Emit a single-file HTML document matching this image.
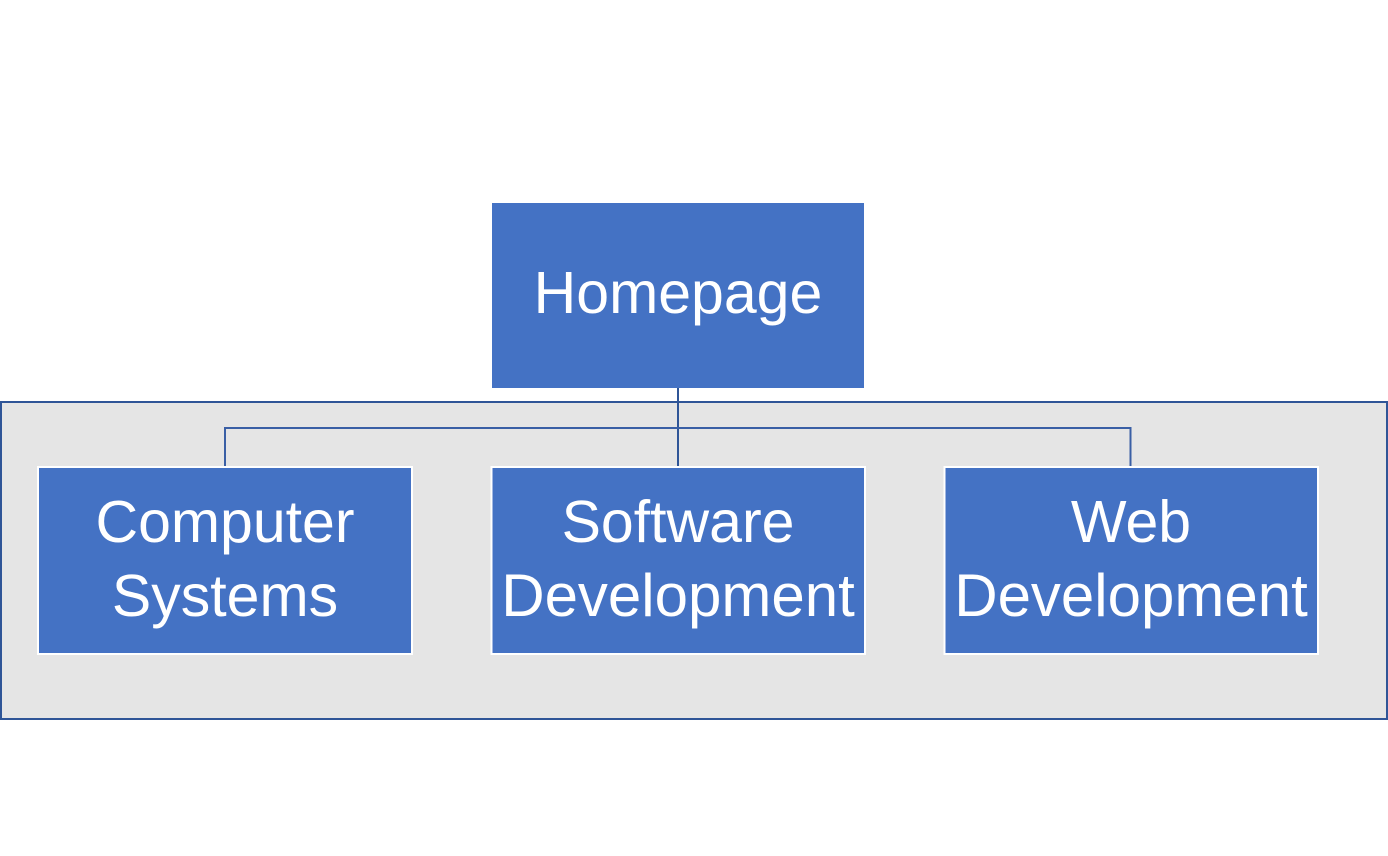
<!DOCTYPE html>
<html><head><meta charset="utf-8"><style>
html,body{margin:0;padding:0;background:#fff;width:1388px;height:856px;overflow:hidden}
svg{display:block}
text{font-family:"Liberation Sans",sans-serif;fill:#fff}
</style></head><body>
<svg width="1388" height="856" viewBox="0 0 1388 856" xmlns="http://www.w3.org/2000/svg">
<rect x="0" y="0" width="1388" height="856" fill="#fff"/>
<rect x="1" y="402" width="1386" height="317" fill="#E5E5E5" stroke="#2F5597" stroke-width="2"/>
<rect x="492" y="203" width="372" height="185" fill="#4472C4"/>
<line x1="678" y1="388" x2="678" y2="467" stroke="#2F5597" stroke-width="2"/>
<polyline points="225,467 225,428 1130.5,428 1130.5,467" fill="none" stroke="#3A5FA5" stroke-width="2"/>
<rect x="38" y="467" width="374" height="187" fill="#4472C4" stroke="#fff" stroke-width="2"/>
<rect x="491.5" y="467" width="373.5" height="187" fill="#4472C4" stroke="#fff" stroke-width="2"/>
<rect x="944.5" y="467" width="373.5" height="187" fill="#4472C4" stroke="#fff" stroke-width="2"/>
<text x="678" y="313" font-size="59" text-anchor="middle">Homepage</text>
<text x="225" y="542" font-size="59" text-anchor="middle">Computer</text>
<text x="225" y="616" font-size="59" text-anchor="middle">Systems</text>
<text x="678" y="542" font-size="59" text-anchor="middle">Software</text>
<text x="678" y="616" font-size="60" text-anchor="middle">Development</text>
<text x="1131" y="542" font-size="59" text-anchor="middle">Web</text>
<text x="1131" y="616" font-size="60" text-anchor="middle">Development</text>
</svg>
</body></html>
